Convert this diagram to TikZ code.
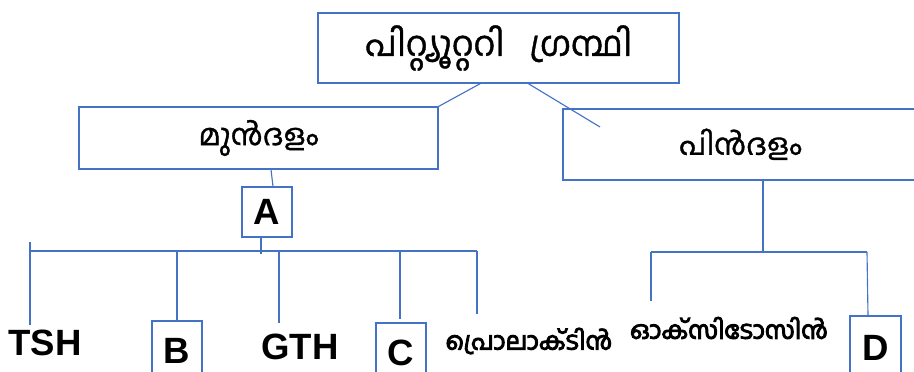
\documentclass[tikz,border=0pt]{standalone}
\usepackage{fontspec}
\newfontfamily\mlfont[Script=Malayalam,FakeBold=1.2]{Hind Kochi}
\newfontfamily\mlbold[Script=Malayalam,FakeBold=4]{Hind Kochi}
\newfontfamily\arial{Liberation Sans}
\usetikzlibrary{positioning,calc}
\definecolor{boxblue}{RGB}{68,114,196}

\begin{document}
\begin{tikzpicture}[x=0.025cm, y=-0.025cm,
  box/.style={draw=boxblue, line width=0.8pt},
  link/.style={draw=boxblue, line width=0.8pt},
  lbl/.style={font=\fontsize{26}{30}\selectfont\arial\bfseries},
  ml/.style={font=\fontsize{21}{25}\selectfont\mlfont},
  mlb/.style={font=\fontsize{17.5}{21}\selectfont\mlbold}]
\useasboundingbox (0,0) rectangle (914,372);
\clip (0,0) rectangle (914,372);

% ഗ്രന്ഥി
\node[box, minimum width=9.025cm, minimum height=1.75cm, font=\fontsize{24.5}{30}\selectfont\mlfont] (gland) at (498.5,48) {പിറ്റ്യൂറ്ററി\ \ \ ഗ്രന്ഥി};

% മുൻദളം, പിൻദളം
\node[box, minimum width=8.975cm, minimum height=1.55cm, ml] (front) at (258.5,138) {\raisebox{4pt}{മുൻദളം}};
\node[box, minimum width=8.875cm, minimum height=1.775cm, ml] (back) at (740.5,144.5) {\raisebox{4pt}{പിൻദളം}};
\coordinate (backtip) at (600,127);

% മുൻദളം ഹോർമോണുകൾ
\node[box, minimum size=1.25cm, lbl] (A) at (267,212) {A};
\node[lbl] (tsh) at (45,343) {TSH};
\node[box, minimum width=1.25cm, minimum height=1.5cm, lbl] (B) at (177,351) {B};
\node[lbl] (gth) at (300,347) {GTH};
\node[box, minimum width=1.25cm, minimum height=1.5cm, lbl] (C) at (401,353) {C};
\node[mlb] (prl) at (529,341) {പ്രൊലാക്ടിൻ};

% പിൻദളം ഹോർമോണുകൾ
\node[mlb] (oxy) at (729,328) {ഓക്സിടോസിൻ};
\node[box, minimum width=1.275cm, minimum height=1.6cm, lbl] (D) at (875.5,348) {D};

% ശാഖകൾ
\coordinate (ltop) at (30,242);
\coordinate (lleft) at (30,251);
\coordinate (lright) at (477,251);
\coordinate (rleft) at (651,252);
\coordinate (rright) at (867,252);
\coordinate (fstem) at ($(front.south)+(12.5,0)$);
\coordinate (astem) at ($(A.south)+(-6,0)$);
\coordinate (bstem) at ($(back.south)+(22.5,0)$);

% connections
\draw[link] ($(gland.south west)!0.45!(gland.south east)$) -- (front.north east);
\draw[link] ($(gland.south west)!0.582!(gland.south east)$) -- (backtip);
\draw[link] (fstem) -- ($(A.north)+(6,0)$);
\draw[link] (astem) -- ($(astem)+(0,16)$);
\draw[link] (lleft) -- (lright);
\draw[link] (ltop) -- (ltop |- tsh.north);
\draw[link] (B.north |- lleft) -- (B.north);
\draw[link] (279,251) -- (279,323);
\draw[link] (400,251) -- (400,319);
\draw[link] (lright) -- (477,314);

\draw[link] (bstem) -- (bstem |- rleft);
\draw[link] (rleft) -- (rright);
\draw[link] (rleft) -- (651,301);
\draw[link] (rright) -- ($(D.north)+(-7.5,0)$);
\end{tikzpicture}
\end{document}
